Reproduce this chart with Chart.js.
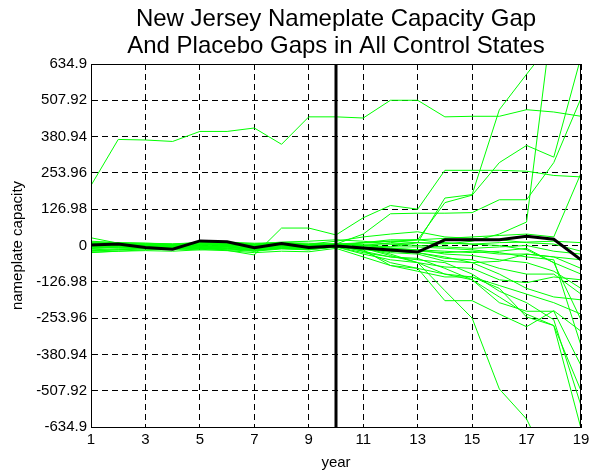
<!DOCTYPE html>
<html>
<head>
<meta charset="utf-8">
<script src="https://cdn.jsdelivr.net/npm/chart.js@4.4.0/dist/chart.umd.min.js"></script>
<style>
html, body { margin: 0; padding: 0; background: #fff; }
#wrap { width: 594px; height: 474px; }
</style>
</head>
<body>
<div id="wrap"><canvas id="gapChart" width="594" height="474"></canvas></div>
<script>
const years = [1, 2, 3, 4, 5, 6, 7, 8, 9, 10, 11, 12, 13, 14, 15, 16, 17, 18, 19];
const xTickValues = [1, 3, 5, 7, 9, 11, 13, 15, 17, 19];
const yTickValues = [-634.9, -507.92, -380.94, -253.96, -126.98, 0, 126.98, 253.96, 380.94, 507.92, 634.9];
const yTickLabels = ['-634.9', '-507.92', '-380.94', '-253.96', '-126.98', '0', '126.98', '253.96', '380.94', '507.92', '634.9'];
const treatmentYear = 10;

// New Jersey gap
const newJersey = [2, 5, -7, -13, 16, 13, -8, 7, -7, -2, -9, -16, -23, 20, 20, 20, 32, 22, -50];

// placebo gaps, one per control state
const ctrl01 = [210, 371, 369, 364, 399, 399, 411, 354, 450, 450, 446, 508, 508, 450, 452, 452, 475, 467, 452];
const ctrl02 = [5, 0, -3, -5, -8, -17, -33, 61, 61, 37, 97, 140, 127, 263, 263, 263, 260, 245, 240];
const ctrl03 = [-10, -5, -8, -10, -5, -3, -20, -5, 0, 5, 0, -5, 10, 166, 178, 475, 599, 720, 800];
const ctrl04 = [-20, -15, -10, -8, -5, 0, -12, -3, -5, 5, 40, 111, 113, 113, 115, 160, 160, 290, 515];
const ctrl05 = [8, 3, 0, -3, 5, 5, 3, 10, 3, 0, 10, 20, 20, 150, 176, 290, 350, 309, 660];
const ctrl06 = [0, 5, 3, 0, -3, -5, -10, 0, -8, 0, 10, 15, 10, 5, 15, 40, 82, 840, 900];
const ctrl07 = [-5, -3, -5, -10, -8, -12, -15, -10, -12, -5, 0, 10, 20, 25, 30, 35, 40, 30, 253];
const ctrl08 = [15, 10, 8, 5, 10, 8, 5, 10, 5, 15, 30, 40, 48, 30, 25, 20, 10, 5, -20];
const ctrl09 = [-5, -8, -10, -12, -8, -5, -10, -5, -8, 0, -10, -30, -60, -158, -254, -502, -607, -800, -900];
const ctrl10 = [3, 0, -2, -5, 0, 3, 0, 5, 0, 0, -20, -60, -80, -193, -193, -240, -284, -228, -300];
const ctrl11 = [-25, -20, -15, -12, -15, -10, -15, -10, -12, -5, -30, -50, -60, -100, -120, -180, -240, -280, -640];
const ctrl12 = [10, 8, 5, 3, 5, 2, 0, 4, 2, 0, -20, -40, -50, -60, -100, -160, -200, -260, -560];
const ctrl13 = [0, -2, -4, -6, -2, -4, -8, -3, -5, 0, -15, -70, -90, -110, -110, -150, -250, -280, -508];
const ctrl14 = [-10, -8, -6, -10, -5, -8, -12, -6, -10, -5, -25, -40, -45, -80, -120, -200, -230, -230, -420];
const ctrl15 = [5, 3, 2, 0, 5, 8, 4, 6, 3, 5, -10, -20, -25, -40, -60, -100, -150, -180, -190];
const ctrl16 = [-15, -12, -10, -8, -10, -12, -18, -10, -15, -5, -5, -10, -15, -30, -35, -50, -60, -90, -150];
const ctrl17 = [8, 5, 2, 0, 3, 6, 2, 5, 3, 5, 0, -10, -15, -20, -25, -20, -10, -60, -100];
const ctrl18 = [-3, 0, -2, -4, -2, 0, -5, 0, -3, 0, -5, -15, -20, -25, -20, -30, -30, -40, -50];
const ctrl19 = [2, 4, 3, 1, 6, 5, 2, 4, 1, 5, 5, 5, 0, -5, -10, -5, 0, -20, -30];
const ctrl20 = [-8, -6, -8, -10, -6, -5, -10, -6, -8, 0, -10, -25, -30, -55, -60, -55, -30, -40, -80];
const ctrl21 = [12, 10, 8, 6, 10, 12, 8, 10, 8, 5, -10, -35, -60, -75, -80, -120, -130, -110, -120];
const ctrl22 = [-18, -15, -12, -14, -10, -15, -20, -12, -15, -5, -15, -20, -25, -45, -50, -80, -100, -100, -170];
const ctrl23 = [0, 2, 0, -2, 2, 0, -4, 2, 0, 5, 10, 15, 20, 10, 5, 0, -15, -60, -260];
const ctrl24 = [6, 5, 4, 2, 4, 3, 1, 3, 2, 5, 2, -5, -5, -10, -15, -25, -40, -50, -350];
const ctrl25 = [27, 8, 5, 3, 8, 10, 5, 12, 15, 20, 15, 5, 10, 8, 5, 10, 12, 15, 10];
const ctrl26 = [-23, -20, -18, -20, -15, -18, -25, -20, -22, -10, -40, -70, -80, -100, -110, -140, -170, -200, -240];

const placeboGaps = [ctrl01, ctrl02, ctrl03, ctrl04, ctrl05, ctrl06, ctrl07, ctrl08, ctrl09, ctrl10, ctrl11, ctrl12, ctrl13,
    ctrl14, ctrl15, ctrl16, ctrl17, ctrl18, ctrl19, ctrl20, ctrl21, ctrl22, ctrl23, ctrl24, ctrl25, ctrl26];

const fontName = '"Liberation Sans", Arial, sans-serif';

function toPoints(values) {
    return values.map((v, i) => ({ x: years[i], y: v }));
}

const titlePlugin = {
    id: 'matlabFrame',
    afterDraw(chart) {
        const { ctx, chartArea } = chart;
        ctx.save();
        ctx.strokeStyle = '#000';
        ctx.lineWidth = 1;
        ctx.strokeRect(chartArea.left + 0.5, chartArea.top + 0.5, chartArea.right - chartArea.left - 1, chartArea.bottom - chartArea.top);
        ctx.fillStyle = '#000';
        ctx.font = '24px ' + fontName;
        ctx.textAlign = 'center';
        ctx.textBaseline = 'middle';
        const cx = (chartArea.left + chartArea.right) / 2;
        ctx.fillText('New Jersey Nameplate Capacity Gap', cx, 19);
        ctx.fillText('And Placebo Gaps in All Control States', cx, 46);
        ctx.restore();
    }
};

const datasets = [
    {
        label: 'New Jersey',
        data: toPoints(newJersey),
        borderColor: '#000',
        borderWidth: 3,
        order: 0
    },
    {
        label: 'treatment',
        data: [{ x: treatmentYear, y: yTickValues[0] }, { x: treatmentYear, y: yTickValues[yTickValues.length - 1] }],
        borderColor: '#000',
        borderWidth: 3,
        order: 1
    }
];
placeboGaps.forEach((gap, i) => {
    datasets.push({
        label: 'placebo ' + (i + 1),
        data: toPoints(gap),
        borderColor: '#00ff00',
        borderWidth: 1,
        order: 2
    });
});

new Chart(document.getElementById('gapChart'), {
    type: 'line',
    data: { datasets: datasets },
    options: {
        responsive: false,
        animation: false,
        devicePixelRatio: 1,
        clip: 0,
        elements: {
            point: { radius: 0 },
            line: { tension: 0 }
        },
        layout: {
            padding: { left: 0, right: 13, top: 64, bottom: 0 }
        },
        plugins: {
            legend: { display: false },
            tooltip: { enabled: false }
        },
        scales: {
            x: {
                type: 'linear',
                min: 1,
                max: 19,
                afterBuildTicks: scale => { scale.ticks = xTickValues.map(v => ({ value: v })); },
                afterFit: scale => { scale.height = 47; },
                ticks: {
                    color: '#000',
                    font: { family: fontName, size: 15 },
                    padding: 4,
                    maxRotation: 0,
                    autoSkip: false
                },
                grid: { color: '#000', lineWidth: 1, drawTicks: false },
                border: { color: '#000', width: 1, dash: [6, 4] },
                title: {
                    display: true,
                    text: 'year',
                    color: '#000',
                    font: { family: fontName, size: 15 },
                    padding: { top: 0, bottom: 2 }
                }
            },
            y: {
                min: yTickValues[0],
                max: yTickValues[yTickValues.length - 1],
                afterBuildTicks: scale => { scale.ticks = yTickValues.map(v => ({ value: v })); },
                afterFit: scale => { scale.width = 91; },
                ticks: {
                    color: '#000',
                    font: { family: fontName, size: 15 },
                    padding: 4,
                    callback: (value, index) => yTickLabels[index]
                },
                grid: { color: '#000', lineWidth: 1, drawTicks: false },
                border: { color: '#000', width: 1, dash: [6, 4] },
                title: {
                    display: true,
                    text: 'nameplate capacity',
                    color: '#000',
                    font: { family: fontName, size: 15 },
                    padding: { top: 9, bottom: 0 }
                }
            }
        }
    },
    plugins: [titlePlugin]
});
</script>
</body>
</html>
